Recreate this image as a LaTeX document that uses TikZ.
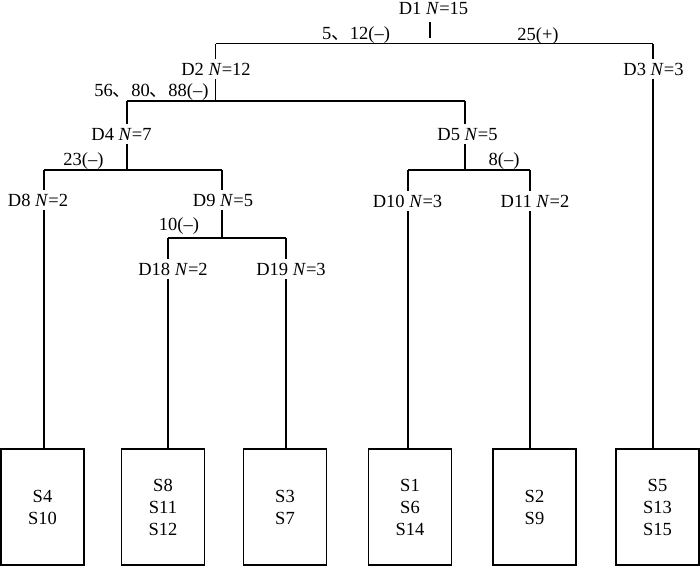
\documentclass[tikz,border=0pt]{standalone}
\usepackage{fontspec}
\setmainfont{Liberation Serif}
\newfontfamily\cjk{Noto Sans CJK SC}
\newcommand{\dun}{{\cjk 、}}
\begin{document}
\begin{tikzpicture}[x=1pt,y=-1pt,line width=1.1pt,
  font=\fontsize{18.5}{22}\selectfont,
  dlab/.style={fill=white,inner xsep=1pt,inner ysep=4pt,anchor=base},
  blab/.style={inner sep=0pt,anchor=base},
  leaf/.style={draw,minimum width=83pt,minimum height=116pt,inner sep=0pt,align=center}]
\useasboundingbox (0,0) rectangle (700,566);
% junction coordinates
\coordinate (s1) at (430,22);
\coordinate (s1b) at (430,38);
\coordinate (x2) at (215.5,43.5);
\coordinate (x3) at (653,43.5);
\coordinate (j2) at (215.5,101);
\coordinate (x4) at (127,101);
\coordinate (x5) at (465,101);
\coordinate (j4) at (127,170);
\coordinate (x8) at (44,170);
\coordinate (x9) at (222,170);
\coordinate (j5) at (465,170);
\coordinate (x10) at (408,170);
\coordinate (x11) at (530,170);
\coordinate (j9) at (222,238);
\coordinate (x18) at (168,238);
\coordinate (x19) at (286,238);
% leaf boxes
\node[leaf] (b8)  at (42.5,507) {S4\\S10};
\node[leaf] (b18) at (163,507)  {S8\\S11\\S12};
\node[leaf] (b19) at (285,507)  {S3\\S7};
\node[leaf] (b10) at (410,507)  {S1\\S6\\S14};
\node[leaf] (b11) at (534.5,507) {S2\\S9};
\node[leaf] (b3)  at (657.5,507) {S5\\S13\\S15};
% connectors
\draw (s1) -- (s1b);
\draw (x2) -- (x3);
\draw (x2) -- (j2);
\draw (x4) -- (x5);
\draw (x3) -- (x3 |- b3.north);
\draw (x4) -- (j4);
\draw (x8) -- (x9);
\draw (x5) -- (j5);
\draw (x10) -- (x11);
\draw (x8) -- (x8 |- b8.north);
\draw (x9) -- (j9);
\draw (x18) -- (x19);
\draw (x18) -- (x18 |- b18.north);
\draw (x19) -- (x19 |- b19.north);
\draw (x10) -- (x10 |- b10.north);
\draw (x11) -- (x11 |- b11.north);
% node labels
\node[dlab] (D1)  at (433.5,14) {D1 \textit{N}=15};
\node[dlab] (D2)  at (216,75)   {D2 \textit{N}=12};
\node[dlab] (D3)  at (653.5,75) {D3 \textit{N}=3};
\node[dlab] (D4)  at (121.5,140) {D4 \textit{N}=7};
\node[dlab] (D5)  at (467.5,140) {D5 \textit{N}=5};
\node[dlab] (D8)  at (38,206)   {D8 \textit{N}=2};
\node[dlab] (D9)  at (223,206)  {D9 \textit{N}=5};
\node[dlab] (D10) at (407.5,207) {D10 \textit{N}=3};
\node[dlab] (D11) at (535,207)  {D11 \textit{N}=2};
\node[dlab] (D18) at (173,275)  {D18 \textit{N}=2};
\node[dlab] (D19) at (291,275)  {D19 \textit{N}=3};
% branch labels
\node[blab] (L1a) at (356,39)  {5\dun12(–)};
\node[blab] (L1b) at (538,40)  {25(+)};
\node[blab] (L2)  at (151.5,96) {56\dun80\dun88(–)};
\node[blab] (L4)  at (83.5,165) {23(–)};
\node[blab] (L5)  at (504,165) {8(–)};
\node[blab] (L9)  at (179,230) {10(–)};
\end{tikzpicture}
\end{document}
